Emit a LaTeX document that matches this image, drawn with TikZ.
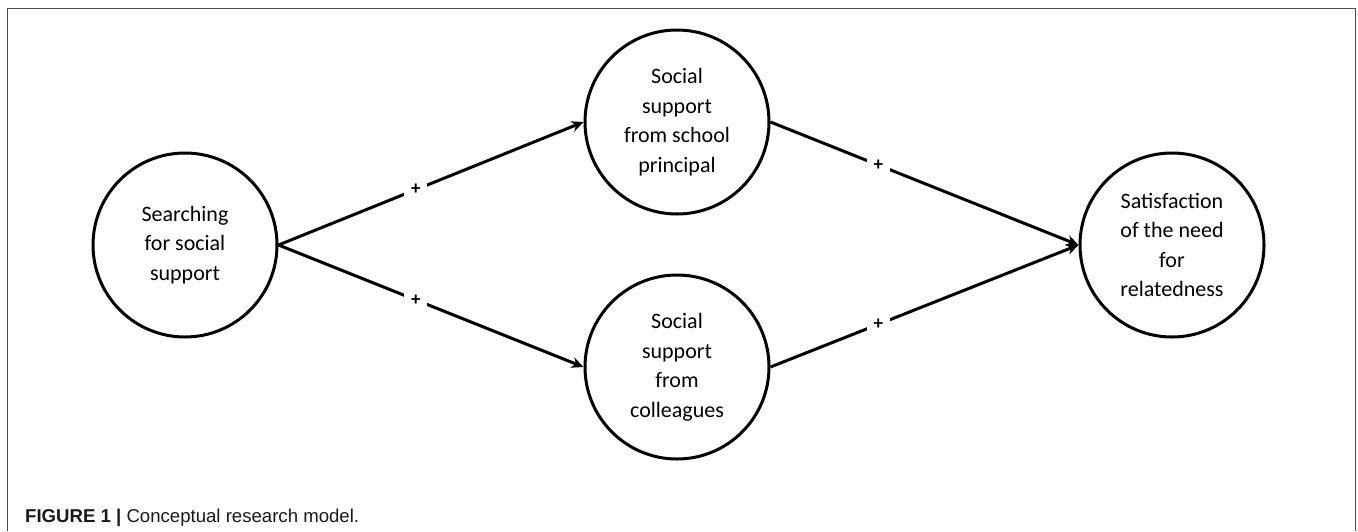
\documentclass[tikz,border=0pt]{standalone}
\usepackage{fontspec}
\setmainfont{Carlito}
\newfontfamily\capfont{Liberation Sans}
\usetikzlibrary{arrows.meta}

\begin{document}
\begin{tikzpicture}[x=1pt,y=-1pt,font=\fontsize{22}{29.5}\selectfont,anchor=center,
	construct/.style={circle,draw,line width=3pt,minimum size=184pt,inner sep=0pt,align=center},
	effect/.style={line width=3pt,-{Stealth[length=12pt,width=11pt]}},
	sign/.style={fill=white,inner sep=7pt,font=\fontsize{19}{19}\selectfont\bfseries}]

	\useasboundingbox (0,0) rectangle (1358,531);
	\draw[gray!60!black, line width=1.4pt] (7.5,531) -- (7.5,8.5) -- (1355.5,8.5) -- (1355.5,531);

	\node[construct] (search) at (185,245) {Searching\\for social\\support};
	\node[construct] (principal) at (677,122) {Social\\support\\from school\\principal};
	\node[construct] (colleagues) at (677,367) {Social\\support\\from\\colleagues};
	\node[construct] (relatedness) at (1172,245) {Satisfaction\\of the need\\for\\relatedness};

	\foreach \a/\b/\p in {search/principal/.45, search/colleagues/.45, principal/relatedness/.35, colleagues/relatedness/.35}
	{
		\draw[effect] (\a.east) -- node[sign,pos=\p] {+} (\b.west);
	}

	\node[anchor=base west,inner sep=0pt,text=gray!20!black,font=\capfont\fontsize{18.6}{20}\selectfont] (caption) at (25,522) {\textbf{FIGURE 1 |} Conceptual research model.};

\end{tikzpicture}
\end{document}
